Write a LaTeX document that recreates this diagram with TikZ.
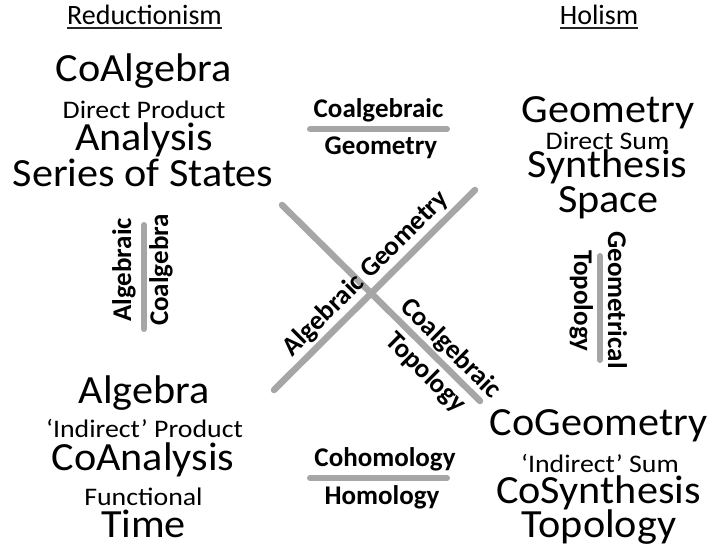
\documentclass[tikz,border=0pt]{standalone}
\usepackage{fontspec}
\setmainfont{Carlito}
\newfontfamily\widefont[FakeStretch=1.055]{Carlito}
\newfontfamily\midfont[FakeStretch=1.1]{Carlito}
\usetikzlibrary{calc}
\definecolor{barg}{HTML}{A6A6A6}
\begin{document}
\begin{tikzpicture}[x=1pt,y=1pt,
  hd/.style={font=\fontsize{28}{34}\selectfont, inner sep=0pt, anchor=base},
  big/.style={font=\widefont\fontsize{40}{48}\selectfont, inner sep=0pt, anchor=base},
  mid/.style={font=\midfont\fontsize{25.3}{30}\selectfont, inner sep=0pt, anchor=base},
  lab/.style={font=\bfseries\fontsize{27}{32}\selectfont, inner sep=0pt, anchor=base},
  bar/.style={line width=6pt, line cap=round, draw=barg},
  xline/.style={line width=6.5pt, line cap=round, draw=barg},
  ul/.style={line width=1.6pt, draw=black!85}]
\useasboundingbox (0,0) rectangle (710,550);

% headers
\node[hd] (red) at (144.5,525) {Reductionism};
\draw[ul] ([yshift=-3pt]red.base west) -- ([yshift=-3pt]red.base east);
\node[hd] (hol) at (599,525) {Holism};
\draw[ul] ([yshift=-3pt]hol.base west) -- ([yshift=-3pt]hol.base east);

% top left
\node[big] (coalg) at (143.5,468) {CoAlgebra};
\node[mid] (dprod) at (144,431) {Direct Product};
\node[big] (anal) at (144,399) {Analysis};
\node[big] (series) at (143,363) {Series of States};

% top right
\node[big] (geom) at (608,427) {Geometry};
\node[mid] (dsum) at (607.5,400) {Direct Sum};
\node[big] (synth) at (607.5,372) {Synthesis};
\node[big] (space) at (608.5,337) {Space};

% bottom left
\node[big] (alg) at (144,147) {Algebra};
\node[mid] (iprod) at (144.5,113) {‘Indirect’ Product};
\node[big] (coanal) at (143,80) {CoAnalysis};
\node[mid] (func) at (143.5,45) {Functional};
\node[big] (time) at (143.5,13) {Time};

% bottom right
\node[big] (cogeom) at (598.5,115) {CoGeometry};
\node[mid] (isum) at (600,78) {‘Indirect’ Sum};
\node[big] (cosynth) at (598.5,47) {CoSynthesis};
\node[big] (topo) at (599,13) {Topology};

% bars
\coordinate (b1a) at (310,421); \coordinate (b1b) at (447,421);
\coordinate (b2a) at (310,72);  \coordinate (b2b) at (447,72);
\coordinate (b3a) at (144,325); \coordinate (b3b) at (144,221);
\coordinate (b4a) at (600,294); \coordinate (b4b) at (600,190);
\draw[bar] (b1a) -- (b1b);
\draw[bar] (b2a) -- (b2b);
\draw[bar] (b3a) -- (b3b);
\draw[bar] (b4a) -- (b4b);

\node[lab] (cgtop) at (378.5,432) {Coalgebraic};
\node[lab] (cgbot) at (381,395) {Geometry};
\node[lab] (cohom) at (385,84) {Cohomology};
\node[lab] (hom) at (382,46) {Homology};
\node[lab, rotate=90] (algv) at (131,280) {Algebraic};
\node[lab, rotate=90] (coalgv) at (168,280) {Coalgebra};
\node[lab, rotate=-90] (geomv) at (608,250) {Geometrical};
\node[lab, rotate=-90] (topov) at (574,249) {Topology};

% X lines
\coordinate (l1a) at (282,345); \coordinate (l1b) at (480,149);
\coordinate (l2a) at (274,160); \coordinate (l2b) at (475,360);
\draw[xline] (l1a) -- (l1b);
\draw[xline] (l2a) -- (l2b);

\begin{scope}[shift={(371,257)}, rotate=44.86, transform shape]
  \node[lab] (ag) at (10,10) {Algebraic Geometry};
\end{scope}
\begin{scope}[shift={(371,257)}, rotate=-44.7, transform shape]
  \node[lab] (ctop) at (96,9) {Coalgebraic};
  \node[lab] (tbot) at (95,-26) {Topology};
\end{scope}
\end{tikzpicture}
\end{document}
